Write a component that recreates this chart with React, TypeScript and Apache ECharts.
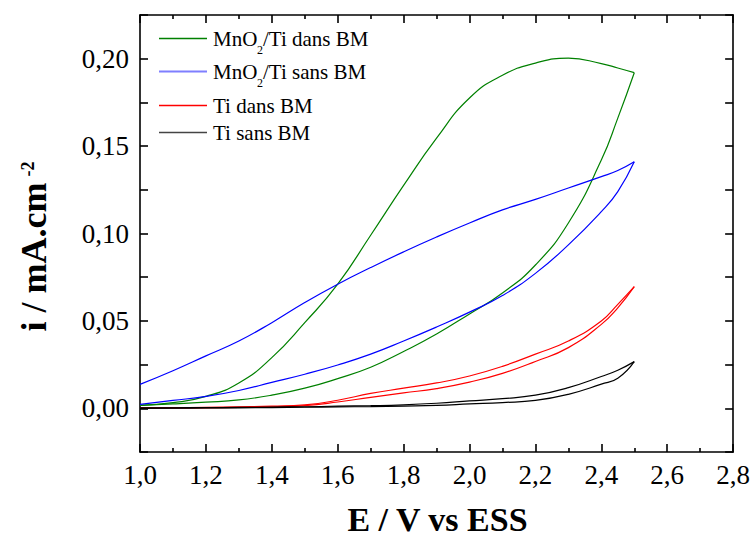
import React, { useEffect, useRef } from "react";
import * as echarts from "echarts";

// Potential grid (V vs ESS) shared by every branch of the voltammograms
const potential = [1.0, 1.1, 1.2, 1.3, 1.4, 1.5, 1.6, 1.7, 1.8, 1.9, 2.0, 2.1, 2.2, 2.3, 2.4, 2.45, 2.5];

// Current density (mA.cm-2), anodic (forward) and return branches
const mnoDansForward = [0.0017, 0.0025, 0.0035, 0.0048, 0.0075, 0.0115, 0.017, 0.0235, 0.0325, 0.0425, 0.054, 0.066, 0.082, 0.106, 0.142, 0.166, 0.192];
const mnoDansReturn = [0.0017, 0.0032, 0.0068, 0.0145, 0.029, 0.049, 0.071, 0.099, 0.1275, 0.1545, 0.1775, 0.1905, 0.1975, 0.2003, 0.1972, 0.1947, 0.192];

const mnoSansForward = [0.0023, 0.0045, 0.0068, 0.0102, 0.0148, 0.0195, 0.0248, 0.031, 0.0385, 0.0465, 0.055, 0.0645, 0.0772, 0.0935, 0.1125, 0.124, 0.141];
const mnoSansReturn = [0.0137, 0.0215, 0.03, 0.0385, 0.049, 0.0605, 0.071, 0.0805, 0.0895, 0.098, 0.106, 0.1135, 0.1195, 0.126, 0.1325, 0.136, 0.141];

const tiDansForward = [0.0002, 0.0002, 0.0003, 0.0005, 0.0008, 0.0015, 0.0036, 0.0063, 0.0088, 0.0113, 0.015, 0.02, 0.0268, 0.0347, 0.048, 0.0575, 0.0696];
const tiDansReturn = [0.0003, 0.0004, 0.0005, 0.0008, 0.0012, 0.002, 0.0046, 0.0085, 0.0115, 0.0145, 0.0185, 0.024, 0.031, 0.0385, 0.05, 0.0595, 0.0696];

const tiSansForward = [0.0, 0.0001, 0.0002, 0.0003, 0.0004, 0.0006, 0.0008, 0.001, 0.0013, 0.0017, 0.0025, 0.0033, 0.0045, 0.008, 0.0138, 0.0172, 0.0267];
const tiSansReturn = [0.0002, 0.0003, 0.0004, 0.0005, 0.0007, 0.0009, 0.0012, 0.0015, 0.002, 0.0029, 0.0042, 0.0055, 0.0075, 0.0118, 0.0182, 0.0218, 0.0267];

const curves = [
  { name: "MnO2/Ti dans BM", color: "#008000", forward: mnoDansForward, back: mnoDansReturn },
  { name: "MnO2/Ti sans BM", color: "#0000ff", forward: mnoSansForward, back: mnoSansReturn },
  { name: "Ti dans BM", color: "#ff0000", forward: tiDansForward, back: tiDansReturn },
  { name: "Ti sans BM", color: "#000000", forward: tiSansForward, back: tiSansReturn },
];

const xTitle = "E / V vs ESS";
const yTitle = "i / mA.cm";
const yTitleSup = "-2";

const SERIF = '"Liberation Serif", "Times New Roman", serif';

const pairs = (ys: number[]) => potential.map((e, i) => [e, ys[i]]);

const axisColor = "#000";

function makeXAxis(position: "bottom" | "top", labels: boolean) {
  return {
    type: "value",
    position,
    min: 1.0,
    max: 2.8,
    interval: 0.2,
    axisLine: { show: true, onZero: false, lineStyle: { color: axisColor, width: 1.6 } },
    axisTick: { show: true, inside: true, length: 8, lineStyle: { color: axisColor, width: 1.6 } },
    minorTick: { show: true, splitNumber: 2, length: 4, lineStyle: { color: axisColor, width: 1.6 } },
    splitLine: { show: false },
    axisLabel: {
      show: labels,
      margin: 9,
      color: "#000",
      fontFamily: SERIF,
      fontSize: 27,
      formatter: (v: number) => v.toFixed(1).replace(".", ","),
    },
  };
}

function makeYAxis(position: "left" | "right", labels: boolean) {
  return {
    type: "value",
    position,
    min: -0.025,
    max: 0.225,
    interval: 0.025,
    axisLine: { show: true, onZero: false, lineStyle: { color: axisColor, width: 1.6 } },
    axisTick: { show: true, inside: true, length: 8, lineStyle: { color: axisColor, width: 1.6 } },
    splitLine: { show: false },
    axisLabel: {
      show: labels,
      margin: 11,
      color: "#000",
      fontFamily: SERIF,
      fontSize: 27,
      formatter: (v: number) => {
        const k = Math.round(v * 1000);
        if (k < 0 || k % 50 !== 0 || k > 200) return "";
        return (k / 1000).toFixed(2).replace(".", ",");
      },
    },
  };
}

function legendGraphics() {
  const rows = [
    { y: 38.5, color: "#008000", width: 1.3, parts: ["MnO", "2", "/Ti dans BM"] },
    { y: 71.5, color: "#7f7fff", width: 2, parts: ["MnO", "2", "/Ti sans BM"] },
    { y: 105.5, color: "#ff0000", width: 1.5, parts: ["Ti dans BM"] },
    { y: 132.5, color: "#444444", width: 1.3, parts: ["Ti sans BM"] },
  ];
  const font = `21px ${SERIF}`;
  const out: any[] = [];
  rows.forEach((r, i) => {
    out.push({
      type: "line",
      id: `legend-line-${i}`,
      shape: { x1: 159, y1: r.y, x2: 207, y2: r.y },
      style: { stroke: r.color, lineWidth: r.width, fill: null },
      silent: true,
    });
    out.push({
      type: "text",
      id: `legend-text-${i}`,
      x: 213,
      y: r.y,
      style: { text: r.parts[0], font, fill: "#000", align: "left", verticalAlign: "middle" },
      silent: true,
    });
    if (r.parts.length > 1) {
      out.push({
        type: "text",
        id: `legend-sub-${i}`,
        x: 257,
        y: r.y + 11,
        style: { text: r.parts[1], font: `12px ${SERIF}`, fill: "#000", align: "left", verticalAlign: "middle" },
        silent: true,
      });
      out.push({
        type: "text",
        id: `legend-rest-${i}`,
        x: 263,
        y: r.y,
        style: { text: r.parts[2], font, fill: "#000", align: "left", verticalAlign: "middle" },
        silent: true,
      });
    }
  });
  return out;
}

export default function App() {
  const ref = useRef<HTMLDivElement>(null);

  useEffect(() => {
    if (!ref.current) return;
    const chart = echarts.init(ref.current, undefined, { renderer: "svg" });

    const series: any[] = [];
    curves.forEach((c) => {
      [c.forward, c.back].forEach((branch) => {
        series.push({
          type: "line",
          name: c.name,
          data: pairs(branch),
          smooth: 0.5,
          showSymbol: false,
          symbol: "none",
          clip: true,
          lineStyle: { color: c.color, width: 1.2 },
          emphasis: { disabled: true },
        });
      });
    });

    chart.setOption({
      animation: false,
      backgroundColor: "#fff",
      grid: { left: 140, top: 15, right: 18, bottom: 84, containLabel: false },
      xAxis: [makeXAxis("bottom", true), makeXAxis("top", false)],
      yAxis: [makeYAxis("left", true), makeYAxis("right", false)],
      series,
      graphic: [
        {
          type: "text",
          id: "x-title",
          x: 437.5,
          y: 519,
          style: {
            text: xTitle,
            font: `bold 34px ${SERIF}`,
            lineHeight: 26,
            fill: "#000",
            align: "center",
            verticalAlign: "middle",
          },
          silent: true,
        },
        {
          type: "text",
          id: "y-title",
          x: 34,
          y: 257,
          rotation: Math.PI / 2,
          style: { text: yTitle, font: `bold 36px ${SERIF}`, fill: "#000", align: "center", verticalAlign: "middle" },
          silent: true,
        },
        {
          type: "text",
          id: "y-title-sup",
          x: 28,
          y: 169,
          rotation: Math.PI / 2,
          style: { text: yTitleSup, font: `bold 18px ${SERIF}`, fill: "#000", align: "center", verticalAlign: "middle" },
          silent: true,
        },
        ...legendGraphics(),
      ],
    });

    return () => chart.dispose();
  }, []);

  return (
    <div
      ref={ref}
      style={{ position: "fixed", left: 0, top: 0, width: 753, height: 536, background: "#fff" }}
    />
  );
}
